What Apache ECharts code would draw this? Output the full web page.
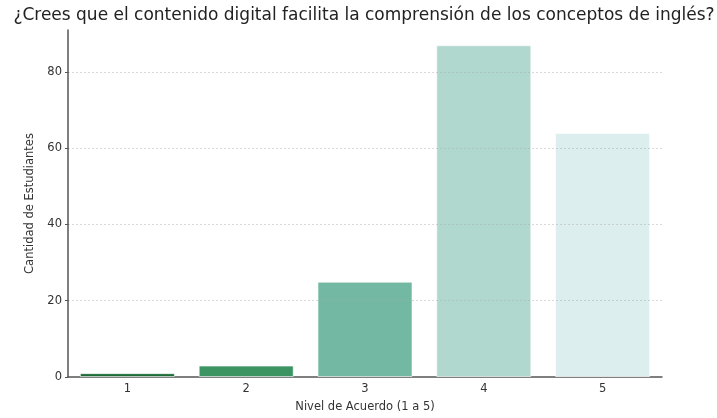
<!DOCTYPE html>
<html>
<head>
<meta charset="utf-8">
<script src="https://cdn.jsdelivr.net/npm/echarts@6/dist/echarts.min.js"></script>
<style>
html,body{margin:0;padding:0;background:#fff;}
#chart{width:717px;height:418px;}
</style>
</head>
<body>
<div id="chart"></div>
<script>
const titleText = '¿Crees que el contenido digital facilita la comprensión de los conceptos de inglés?';
const categories = ['1', '2', '3', '4', '5'];
const values = [1, 3, 25, 87, 64];
const barColors = ['#1c6b37', '#3d9463', '#72b8a2', '#b0d8cf', '#ddeeee'];
const yTicks = [0, 20, 40, 60, 80];

const chart = echarts.init(document.getElementById('chart'), null, {renderer: 'canvas'});
const font = 'DejaVu Sans';
chart.setOption({
  animation: false,
  backgroundColor: '#ffffff',
  title: {
    text: titleText,
    left: 359,
    textAlign: 'center',
    top: 2,
    textStyle: {fontFamily: font, fontSize: 17, fontWeight: 'normal', color: '#222'}
  },
  grid: {left: 68, right: 55, top: 30, bottom: 35, containLabel: false},
  xAxis: {
    type: 'category',
    data: categories,
    name: 'Nivel de Acuerdo (1 a 5)',
    nameLocation: 'middle',
    nameGap: 24,
    nameTextStyle: {fontFamily: font, fontSize: 11.5, color: '#333'},
    axisLine: {lineStyle: {color: '#555', width: 1.5}},
    axisTick: {alignWithLabel: true, length: 3, lineStyle: {color: '#555'}},
    axisLabel: {fontFamily: font, fontSize: 11.5, color: '#333', margin: 6}
  },
  yAxis: {
    type: 'value',
    min: 0,
    max: 91,
    interval: 20,
    z: 3,
    name: 'Cantidad de Estudiantes',
    nameLocation: 'middle',
    nameGap: 31,
    nameTextStyle: {fontFamily: font, fontSize: 11.5, color: '#333'},
    axisLine: {show: true, lineStyle: {color: '#555', width: 1.5}},
    axisTick: {show: true, length: 3, lineStyle: {color: '#555'}},
    axisLabel: {
      fontFamily: font, fontSize: 11.5, color: '#333', margin: 6,
      showMaxLabel: false,
      formatter: v => yTicks.includes(v) ? String(v) : ''
    },
    splitLine: {show: true, showMinLine: false, showMaxLine: false,
      lineStyle: {color: 'rgba(170,170,170,0.45)', type: [2, 2], width: 1}}
  },
  series: [{
    type: 'bar',
    data: values.map((v, i) => ({value: v, itemStyle: {color: barColors[i]}})),
    barWidth: '80%',
    itemStyle: {borderColor: 'rgba(255,255,255,0.6)', borderWidth: 1}
  }]
});
</script>
</body>
</html>
